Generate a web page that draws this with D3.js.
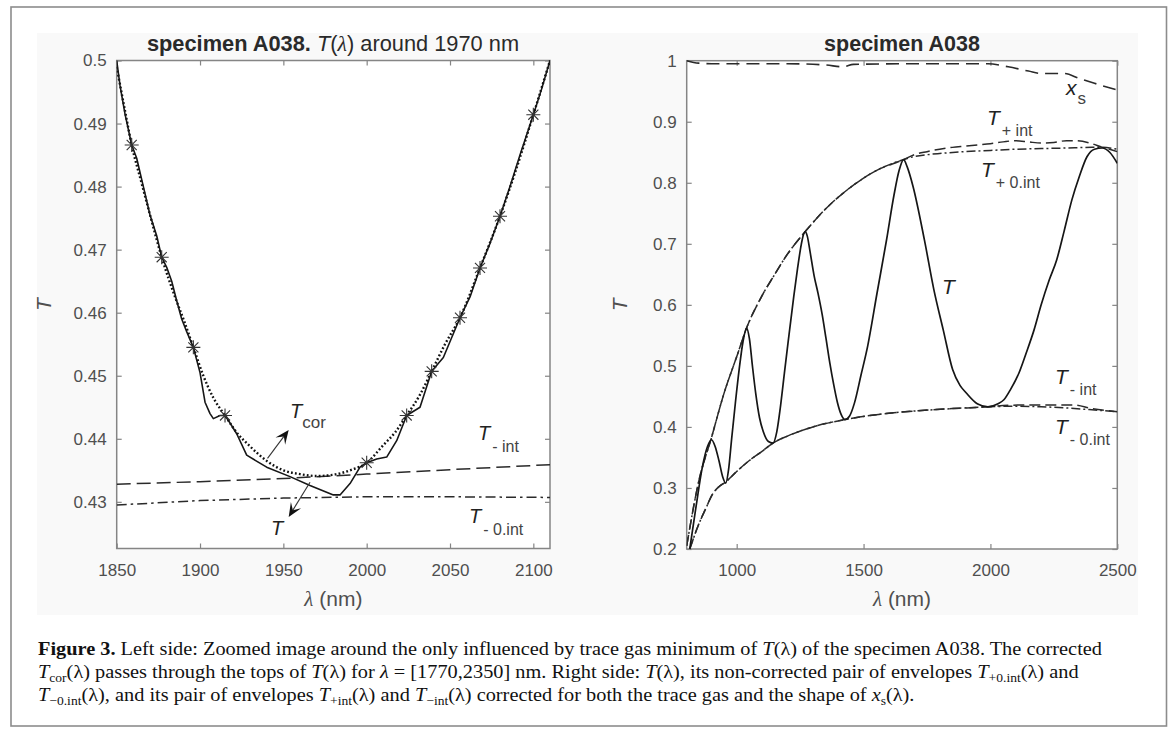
<!DOCTYPE html>
<html><head><meta charset="utf-8">
<script src="https://cdn.jsdelivr.net/npm/d3@7"></script>
<style>body{margin:0;background:#fff} svg{display:block}</style>
</head><body>
<svg id="c" width="1173" height="733"></svg>
<script>
// ---------------- DATA ----------------
// Left panel: zoom around 1970 nm
const leftXTicks = [1850, 1900, 1950, 2000, 2050, 2100];
const leftYTicks = [0.43, 0.44, 0.45, 0.46, 0.47, 0.48, 0.49, 0.5];
const leftYTickLabels = ["0.43","0.44","0.45","0.46","0.47","0.48","0.49","0.5"];
const leftT = [[1850,0.5000],[1852,0.4960],[1855,0.4915],[1859,0.4866],[1862,0.4845],[1866,0.4800],[1870,0.4755],[1874,0.4722],[1877,0.4688],[1880,0.4672],[1883,0.4650],[1886,0.4619],[1889,0.4590],[1892,0.4570],[1896,0.4545],[1900,0.4505],[1903,0.4458],[1906,0.4440],[1908,0.4432],[1912,0.4437],[1915,0.4437],[1918,0.4425],[1922,0.4408],[1928,0.4374],[1940,0.4355],[1954,0.4340],[1966,0.4326],[1980,0.4311],[1984,0.4311],[1990,0.4329],[1996,0.4355],[2000,0.4362],[2006,0.4368],[2012,0.4371],[2018,0.4397],[2024,0.4437],[2032,0.4450],[2039,0.4507],[2046,0.4529],[2056,0.4592],[2062,0.4625],[2068,0.4671],[2074,0.4710],[2080,0.4753],[2086,0.4800],[2092,0.4850],[2100,0.4914],[2105,0.4955],[2110,0.5000]];
const leftTcor = [[1850,0.4990],[1855,0.4920],[1859,0.4866],[1865,0.4805],[1870,0.4755],[1877,0.4688],[1885,0.4625],[1890,0.4590],[1896,0.4545],[1902,0.4500],[1908,0.4465],[1915,0.4437],[1922,0.4410],[1930,0.4388],[1940,0.4365],[1950,0.4350],[1960,0.4344],[1970,0.4341],[1980,0.4343],[1990,0.4350],[2000,0.4362],[2010,0.4390],[2017,0.4410],[2024,0.4437],[2032,0.4470],[2039,0.4507],[2047,0.4550],[2056,0.4592],[2068,0.4671],[2080,0.4753],[2090,0.4830],[2100,0.4914],[2110,0.5000]];
const leftStars = [[1859,0.4866],[1877,0.4688],[1896,0.4545],[1915,0.4437],[2000,0.4362],[2024,0.4437],[2039,0.4507],[2056,0.4592],[2068,0.4671],[2080,0.4753],[2100,0.4914]];
const leftTminusInt = [[1850,0.4328],[1900,0.4332],[1950,0.4337],[2000,0.4344],[2050,0.4351],[2110,0.4359]];
const leftTminus0Int = [[1850,0.4295],[1900,0.4302],[1950,0.4306],[2000,0.4308],[2050,0.4308],[2110,0.4307]];

// Right panel: full spectrum
const rightXTicks = [1000, 1500, 2000, 2500];
const rightYTicks = [0.2, 0.3, 0.4, 0.5, 0.6, 0.7, 0.8, 0.9, 1];
const rightYTickLabels = ["0.2","0.3","0.4","0.5","0.6","0.7","0.8","0.9","1"];
const rightT = [[815,0.200],[840,0.270],[865,0.335],[885,0.368],[901,0.379],[915,0.368],[930,0.345],[945,0.318],[957,0.308],[968,0.330],[980,0.380],[995,0.440],[1010,0.495],[1025,0.540],[1039,0.562],[1050,0.545],[1062,0.500],[1075,0.455],[1090,0.415],[1105,0.392],[1125,0.376],[1143,0.3735],[1158,0.392],[1173,0.435],[1188,0.488],[1203,0.540],[1225,0.614],[1240,0.660],[1255,0.700],[1264,0.716],[1270,0.720],[1278,0.713],[1290,0.685],[1305,0.648],[1320,0.620],[1337,0.584],[1352,0.545],[1367,0.505],[1382,0.470],[1397,0.440],[1412,0.420],[1426,0.412],[1445,0.418],[1464,0.439],[1490,0.485],[1516,0.532],[1553,0.619],[1590,0.705],[1620,0.780],[1640,0.820],[1658,0.838],[1672,0.826],[1695,0.794],[1740,0.706],[1777,0.625],[1814,0.559],[1851,0.494],[1880,0.468],[1904,0.456],[1948,0.438],[1990,0.433],[2030,0.438],[2053,0.4445],[2080,0.462],[2112,0.488],[2140,0.520],[2172,0.559],[2200,0.600],[2232,0.641],[2261,0.6735],[2290,0.720],[2321,0.772],[2350,0.810],[2381,0.843],[2410,0.855],[2441,0.857],[2470,0.850],[2500,0.832]];
const rightXs = [[803,1.000],[850,0.996],[900,0.995],[1000,0.995],[1200,0.995],[1350,0.993],[1420,0.990],[1460,0.994],[1700,0.995],[1990,0.995],[2070,0.990],[2150,0.983],[2200,0.979],[2290,0.979],[2350,0.971],[2410,0.963],[2500,0.952]];
const rightTplusInt = [[803,0.205],[850,0.310],[901,0.383],[950,0.455],[1000,0.515],[1039,0.562],[1100,0.615],[1150,0.650],[1200,0.683],[1270,0.720],[1350,0.757],[1450,0.793],[1550,0.820],[1658,0.838],[1700,0.846],[1750,0.851],[1800,0.855],[1850,0.858],[1900,0.860],[1950,0.862],[2000,0.864],[2050,0.867],[2100,0.869],[2150,0.867],[2200,0.865],[2250,0.866],[2300,0.869],[2340,0.869],[2400,0.864],[2441,0.858],[2470,0.855],[2500,0.851]];
const rightTplus0Int = [[803,0.205],[850,0.310],[901,0.383],[950,0.455],[1000,0.515],[1039,0.562],[1100,0.615],[1150,0.650],[1200,0.683],[1270,0.720],[1350,0.757],[1450,0.793],[1550,0.820],[1658,0.838],[1700,0.843],[1750,0.846],[1800,0.848],[1900,0.851],[2000,0.853],[2100,0.855],[2200,0.856],[2300,0.857],[2400,0.858],[2441,0.858],[2500,0.855]];
const rightTminusInt = [[815,0.200],[850,0.240],[880,0.268],[905,0.290],[930,0.302],[957,0.310],[1000,0.327],[1050,0.345],[1100,0.360],[1143,0.3735],[1200,0.385],[1300,0.400],[1426,0.412],[1550,0.420],[1700,0.426],[1850,0.430],[1990,0.433],[2050,0.435],[2150,0.436],[2250,0.436],[2330,0.436],[2400,0.430],[2500,0.425]];
const rightTminus0Int = [[815,0.200],[850,0.240],[880,0.268],[905,0.290],[930,0.302],[957,0.310],[1000,0.327],[1050,0.345],[1100,0.360],[1143,0.3735],[1200,0.385],[1300,0.400],[1426,0.412],[1550,0.420],[1700,0.426],[1850,0.430],[1990,0.433],[2100,0.434],[2200,0.433],[2300,0.431],[2400,0.428],[2500,0.425]];

// Caption
const captionLines = [
  [["Figure 3.","b"],[" Left side: Zoomed image around the only influenced by trace gas minimum of ","n"],["T","i"],["(λ) of the specimen A038. The corrected","n"]],
  [["T","i"],["cor","sub"],["(λ) passes through the tops of ","n"],["T","i"],["(λ) for ","n"],["λ","i"],[" = [1770,2350] nm. Right side: ","n"],["T","i"],["(λ), its non-corrected pair of envelopes ","n"],["T","i"],["+0.int","sub"],["(λ) and","n"]],
  [["T","i"],["−0.int","sub"],["(λ), and its pair of envelopes ","n"],["T","i"],["+int","sub"],["(λ) and ","n"],["T","i"],["−int","sub"],["(λ) corrected for both the trace gas and the shape of ","n"],["x","i"],["s","sub"],["(λ).","n"]]
];

// ---------------- DRAW ----------------
const svg = d3.select("#c");
const SANS = "'Liberation Sans', Arial, sans-serif";
const SERIF = "'Liberation Serif', 'Times New Roman', serif";
const AX = "#858585", TXT = "#4f4f4f", INK = "#161616";

svg.append("rect").attr("x",0).attr("y",0).attr("width",1173).attr("height",733).attr("fill","#fff");
svg.append("rect").attr("x",37).attr("y",33).attr("width",1101).attr("height",582).attr("fill","#f9f9f9");
svg.append("rect").attr("x",11).attr("y",7).attr("width",1155.5).attr("height",719).attr("fill","none").attr("stroke","#8c8c8c").attr("stroke-width",1.6);

function makePanel(cfg) {
  const x = d3.scaleLinear().domain(cfg.xd).range([cfg.x0, cfg.x1]);
  const y = d3.scaleLinear().domain(cfg.yd).range([cfg.y1, cfg.y0]);
  const g = svg.append("g");
  g.append("rect").attr("x",cfg.x0).attr("y",cfg.y0).attr("width",cfg.x1-cfg.x0).attr("height",cfg.y1-cfg.y0).attr("fill","#fff");
  const cid = "clip"+cfg.id;
  svg.append("clipPath").attr("id",cid).append("rect").attr("x",cfg.x0).attr("y",cfg.y0-1).attr("width",cfg.x1-cfg.x0).attr("height",cfg.y1-cfg.y0+2);
  const style = s => s.call(a=>a.select(".domain").remove())
      .call(a=>a.selectAll(".tick line").attr("stroke",AX).attr("stroke-width",1.2))
      .call(a=>a.selectAll("text").attr("fill",TXT).attr("font-family",SANS).attr("font-size",17));
  g.append("g").attr("transform",`translate(0,${cfg.y1})`)
    .call(d3.axisBottom(x).tickValues(cfg.xt).tickFormat(d3.format("d")).tickSizeInner(-5).tickSizeOuter(0).tickPadding(15)).call(style);
  g.append("g").attr("transform",`translate(0,${cfg.y0})`)
    .call(d3.axisTop(x).tickValues(cfg.xt).tickFormat("").tickSizeInner(-5).tickSizeOuter(0)).call(style);
  g.append("g").attr("transform",`translate(${cfg.x0},0)`)
    .call(d3.axisLeft(y).tickValues(cfg.yt).tickFormat((d,i)=>cfg.ytl[i]).tickSizeInner(-5).tickSizeOuter(0).tickPadding(10)).call(style);
  g.append("g").attr("transform",`translate(${cfg.x1},0)`)
    .call(d3.axisRight(y).tickValues(cfg.yt).tickFormat("").tickSizeInner(-5).tickSizeOuter(0)).call(style);
  g.append("rect").attr("x",cfg.x0).attr("y",cfg.y0).attr("width",cfg.x1-cfg.x0).attr("height",cfg.y1-cfg.y0)
    .attr("fill","none").attr("stroke",AX).attr("stroke-width",1.5);
  const plot = g.append("g").attr("clip-path",`url(#${cid})`);
  const cx = (cfg.x0+cfg.x1)/2;
  const xl = g.append("text").attr("x",cx).attr("y",606).attr("text-anchor","middle")
     .attr("font-family",SANS).attr("font-size",21).attr("fill",TXT);
  xl.append("tspan").attr("font-family",SERIF).attr("font-style","italic").text("λ");
  xl.append("tspan").text(" (nm)");
  g.append("text").attr("transform",`translate(${cfg.ylx},${(cfg.y0+cfg.y1)/2}) rotate(-90)`)
     .attr("text-anchor","middle").attr("font-family",SANS).attr("font-style","italic").attr("font-size",21).attr("fill",TXT).text("T");
  return {x, y, plot, g};
}

function drawLine(p, data, opts) {
  const line = d3.line().x(d=>p.x(d[0])).y(d=>p.y(d[1])).curve(opts.curve || d3.curveLinear);
  p.plot.append("path").datum(data).attr("d",line).attr("fill","none")
    .attr("stroke",opts.color||INK).attr("stroke-width",opts.w||1.6)
    .attr("stroke-dasharray",opts.dash||null).attr("stroke-linecap",opts.cap||"butt").attr("stroke-linejoin","round");
}

function label(p, px, py, main, sub, fs, subfs, subdx, subdy) {
  const t = p.g.append("text").attr("x",px).attr("y",py).attr("font-family",SANS).attr("fill","#222").attr("font-size",fs);
  t.append("tspan").attr("font-style","italic").text(main);
  if (sub) t.append("tspan").attr("dx",subdx).attr("dy",subdy).attr("font-size",subfs).attr("fill","#444").text(sub);
}

function arrow(p, from, to) {
  const x1=p.x(from[0]), y1=p.y(from[1]), x2=p.x(to[0]), y2=p.y(to[1]);
  const dx=x2-x1, dy=y2-y1, L=Math.hypot(dx,dy), ux=dx/L, uy=dy/L, nx=-uy, ny=ux;
  const hl=14, hw=6, notch=8;
  p.g.append("line").attr("x1",x1).attr("y1",y1).attr("x2",x2-ux*notch).attr("y2",y2-uy*notch).attr("stroke","#333").attr("stroke-width",1.1);
  const pts=[[x2,y2],[x2-ux*hl+nx*hw,y2-uy*hl+ny*hw],[x2-ux*notch,y2-uy*notch],[x2-ux*hl-nx*hw,y2-uy*hl-ny*hw]];
  p.g.append("path").attr("d","M"+pts.map(q=>q.join(",")).join("L")+"Z").attr("fill","#111");
}

// ---- left panel ----
const L = makePanel({id:"L", xd:[1850,2110], yd:[0.4226,0.5], x0:116.7, x1:550, y0:60.5, y1:548.5,
  xt:leftXTicks, yt:leftYTicks, ytl:leftYTickLabels, ylx:51});
drawLine(L, leftTminusInt, {dash:"14,6", w:1.5, color:"#2a2a2a"});
drawLine(L, leftTminus0Int, {dash:"10,4,2.5,4", w:1.5, color:"#2a2a2a"});
drawLine(L, leftTcor, {dash:"1.8,2.2", w:2.4, curve:d3.curveMonotoneX, color:"#111"});
drawLine(L, leftT, {w:1.6});
const star = r => { const d=r*0.72; return `M${-r},0L${r},0M0,${-r}L0,${r}M${-d},${-d}L${d},${d}M${-d},${d}L${d},${-d}`; };
L.plot.selectAll(".star").data(leftStars).join("path").attr("class","star")
  .attr("transform",d=>`translate(${L.x(d[0])},${L.y(d[1])})`).attr("d",star(7))
  .attr("fill","none").attr("stroke","#333").attr("stroke-width",1.1);
arrow(L, [1940.5,0.4369], [1953.2,0.4414]);
arrow(L, [1966,0.4331], [1953.2,0.4276]);
label(L, 290, 418, "T", "cor", 20, 17, 0, 10);
label(L, 271, 535, "T", null, 20);
label(L, 478, 440, "T", "- int", 20, 16, 2, 12);
label(L, 469, 523, "T", "- 0.int", 20, 16, 2, 12);
svg.append("text").attr("x",333).attr("y",51).attr("text-anchor","middle").attr("font-family",SANS).attr("font-size",21.8).attr("fill","#2a2a2a")
  .call(t=>{ t.append("tspan").attr("font-weight","bold").text("specimen A038. ");
             t.append("tspan").attr("font-style","italic").text("T");
             t.append("tspan").text("(");
             t.append("tspan").attr("font-family",SERIF).attr("font-style","italic").text("λ");
             t.append("tspan").text(") around 1970 nm"); });

// ---- right panel ----
const R = makePanel({id:"R", xd:[803,2500], yd:[0.2,1], x0:686.7, x1:1117.3, y0:60.7, y1:549,
  xt:rightXTicks, yt:rightYTicks, ytl:rightYTickLabels, ylx:627});
drawLine(R, rightXs, {dash:"13,7", w:1.6, curve:d3.curveMonotoneX, color:"#2a2a2a"});
drawLine(R, rightTplusInt, {dash:"11,5", w:1.5, curve:d3.curveMonotoneX, color:"#2a2a2a"});
drawLine(R, rightTplus0Int, {dash:"9,3,2,3", w:1.5, curve:d3.curveMonotoneX, color:"#2a2a2a"});
drawLine(R, rightTminusInt, {dash:"11,5", w:1.5, curve:d3.curveMonotoneX, color:"#2a2a2a"});
drawLine(R, rightTminus0Int, {dash:"9,3,2,3", w:1.5, curve:d3.curveMonotoneX, color:"#2a2a2a"});
drawLine(R, rightT, {w:1.7, curve:d3.curveMonotoneX});
label(R, 1066, 95, "x", "s", 21, 17, 1, 9);
label(R, 987, 125, "T", "+ int", 21, 16, 2, 11);
label(R, 981, 177, "T", "+ 0.int", 21, 16, 2, 11);
label(R, 942, 294, "T", null, 21);
label(R, 1055, 384, "T", "- int", 21, 16, 2, 11);
label(R, 1055, 434, "T", "- 0.int", 21, 16, 2, 11);
svg.append("text").attr("x",902).attr("y",51).attr("text-anchor","middle").attr("font-family",SANS).attr("font-size",21.5).attr("font-weight","bold").attr("fill","#2a2a2a").text("specimen A038");

// ---- caption ----
const capY = [655, 678, 701];
const capNodes = captionLines.map((segs, li) => {
  const t = svg.append("text").attr("x",38).attr("y",capY[li]).attr("font-family",SERIF).attr("font-size",19.5).attr("fill","#111");
  let shifted = false;
  segs.forEach(([s, k]) => {
    const ts = t.append("tspan").text(s);
    if (k === "b") ts.attr("font-weight","bold");
    if (k === "i") ts.attr("font-style","italic");
    if (k === "sub") { ts.attr("font-size",13).attr("dy",4); shifted = true; }
    else if (shifted) { ts.attr("dy",-4); shifted = false; }
  });
  return t;
});
const nat = capNodes.map(t => t.node().getComputedTextLength());
const factor = 1064 / nat[0];
capNodes.forEach((t,i) => t.attr("textLength", nat[i]*factor).attr("lengthAdjust","spacingAndGlyphs"));
</script>
</body></html>
